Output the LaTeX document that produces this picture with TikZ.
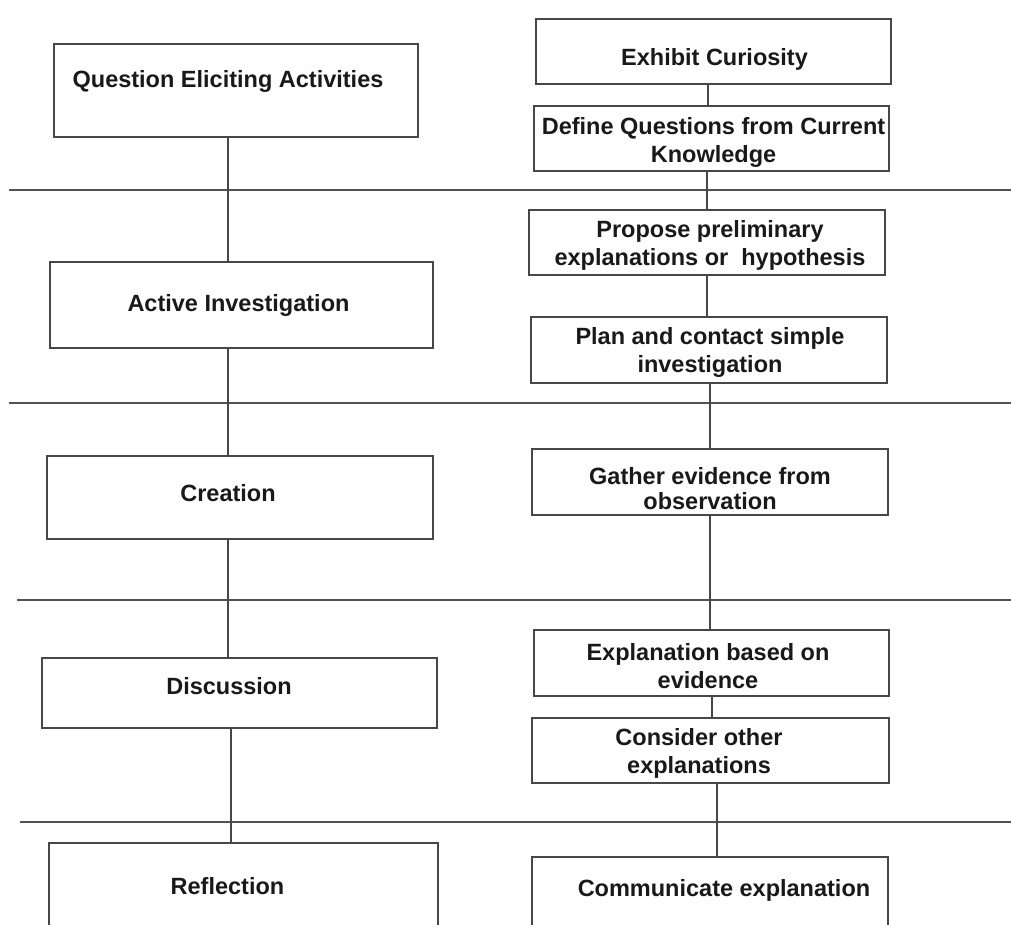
\documentclass[tikz,border=0pt]{standalone}
\usepackage{fontspec}
\setmainfont{Liberation Sans}
\begin{document}
\begin{tikzpicture}[x=1pt,y=-1pt,
  box/.style={draw=black!72, line width=2.2pt, inner sep=0pt, rectangle},
  txt/.style={font=\fontsize{23.5}{28}\selectfont\bfseries, text=black!90, align=center, inner sep=0pt},
  link/.style={draw=black!72, line width=2.2pt},
  sep/.style={draw=black!68, line width=2.2pt}]
\useasboundingbox (0,0) rectangle (1011,924);
\fill[white] (0,0) rectangle (1011,924);
\clip (0,0) rectangle (1011,924);

% separator lines
\coordinate (h1a) at (9,190);   \coordinate (h1b) at (1011,190);
\coordinate (h2a) at (9,403);   \coordinate (h2b) at (1011,403);
\coordinate (h3a) at (17,600);  \coordinate (h3b) at (1011,600);
\coordinate (h4a) at (20,822);  \coordinate (h4b) at (1011,822);
\draw[sep] (h1a) -- (h1b);
\draw[sep] (h2a) -- (h2b);
\draw[sep] (h3a) -- (h3b);
\draw[sep] (h4a) -- (h4b);

% left column boxes
\node[box, minimum width=364, minimum height=93] (qea) at (236,90.5) {};
\node[box, minimum width=383, minimum height=86] (ai) at (241.5,305) {};
\node[box, minimum width=386, minimum height=83] (cr) at (240,497.5) {};
\node[box, minimum width=395, minimum height=70] (di) at (239.5,693) {};
\node[box, minimum width=389, minimum height=117] (re) at (243.5,901.5) {};

% right column boxes
\node[box, minimum width=355, minimum height=65] (ec) at (713.5,51.5) {};
\node[box, minimum width=355, minimum height=65] (dq) at (711.5,138.5) {};
\node[box, minimum width=356, minimum height=65] (pp) at (707,242.5) {};
\node[box, minimum width=356, minimum height=66] (pl) at (709,350) {};
\node[box, minimum width=356, minimum height=66] (ge) at (710,482) {};
\node[box, minimum width=355, minimum height=66] (eb) at (711.5,663) {};
\node[box, minimum width=357, minimum height=65] (co) at (710.5,750.5) {};
\node[box, minimum width=356, minimum height=103] (cm) at (710,908.5) {};

% connector columns
\coordinate (vl1) at (228,0);
\coordinate (vl2) at (231,0);
\coordinate (vr1) at (708,0);
\coordinate (vr2) at (707,0);
\coordinate (vr3) at (710,0);
\coordinate (vr4) at (712,0);
\coordinate (vr5) at (717,0);

\draw[link] (qea.south -| vl1) -- (ai.north -| vl1);
\draw[link] (ai.south -| vl1) -- (cr.north -| vl1);
\draw[link] (cr.south -| vl1) -- (di.north -| vl1);
\draw[link] (di.south -| vl2) -- (re.north -| vl2);

\draw[link] (ec.south -| vr1) -- (dq.north -| vr1);
\draw[link] (dq.south -| vr2) -- (pp.north -| vr2);
\draw[link] (pp.south -| vr2) -- (pl.north -| vr2);
\draw[link] (pl.south -| vr3) -- (ge.north -| vr3);
\draw[link] (ge.south -| vr3) -- (eb.north -| vr3);
\draw[link] (eb.south -| vr4) -- (co.north -| vr4);
\draw[link] (co.south -| vr5) -- (cm.north -| vr5);

% texts
\node[txt, anchor=base] (tqea) at (228,87.5) {Question Eliciting Activities};
\node[txt, anchor=base] (tai) at (238.5,311.5) {Active Investigation};
\node[txt, anchor=base] (tcr) at (228,501.5) {Creation};
\node[txt, anchor=base] (tdi) at (229,694.5) {Discussion};
\node[txt, anchor=base] (tre) at (227.5,894.5) {Reflection};

\node[txt, anchor=base] (tec) at (714.5,65.5) {Exhibit Curiosity};
\node[txt] (tdq) at (713.5,142) {Define Questions from Current\\Knowledge};
\node[txt] (tpp) at (710,245) {Propose preliminary\\explanations or~ hypothesis};
\node[txt] (tpl) at (710,352.5) {Plan and contact simple\\investigation};
\node[txt] (tge) at (710,488.5) {Gather evidence from\\[-3pt]observation};
\node[txt] (teb) at (708,666) {Explanation based on\\evidence};
\node[txt] (tco) at (699,753) {Consider other\\explanations};
\node[txt, anchor=base] (tcm) at (724,896.5) {Communicate explanation};
\end{tikzpicture}
\end{document}
